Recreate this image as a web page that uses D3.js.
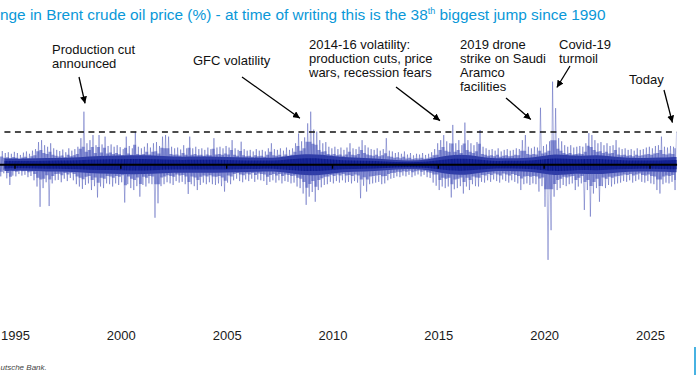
<!DOCTYPE html>
<html><head><meta charset="utf-8">
<script src="https://cdn.jsdelivr.net/npm/d3@7"></script>
<style>
html,body{margin:0;padding:0;background:#fff;overflow:hidden;}
svg{display:block;font-family:"Liberation Sans",Arial,Helvetica,sans-serif;}
</style></head><body>
<svg id="chart" width="700" height="375"></svg>
<script>
// ---------------- data ----------------
const tickYears = [1995, 2000, 2005, 2010, 2015, 2020, 2025];
const firstSample = 1994.22;      // fractional year of first sample window
const samplesPerYear = 7;         // envelope windows per year
// largest daily rise (%) in each window
const upMoves = [
 3.0,3.5,3.0,3.2,2.8,3.3,3.0,2.5,3.1,3.4,2.8,3.6,4.0,5.8,6.3,5.0,4.6,5.5,4.2,3.8,
 3.5,3.9,3.2,4.2,3.6,4.0,4.6,6.8,13.6,5.5,6.3,7.6,5.0,7.6,5.2,7.2,4.8,5.2,4.6,5.0,
 4.5,4.0,7.2,4.8,4.2,8.5,4.6,4.2,4.6,5.5,4.4,5.5,5.8,4.8,7.2,7.6,7.2,4.6,4.2,4.4,
 3.9,5.0,4.2,7.2,4.2,4.6,4.0,4.2,3.8,4.4,4.0,6.8,4.4,4.6,4.2,4.8,4.4,6.3,4.2,3.8,
 5.9,4.0,3.6,3.8,3.4,4.0,3.6,3.8,3.4,4.2,5.5,4.0,3.8,4.2,3.6,4.4,3.8,4.2,5.5,8.0,
 6.0,7.0,10.6,13.6,9.0,8.5,6.3,5.5,5.8,4.6,4.2,4.6,4.0,4.4,3.8,4.4,5.5,4.2,4.0,4.6,
 6.3,5.0,4.4,4.0,3.8,4.2,3.6,4.0,6.8,3.6,3.4,3.0,3.2,2.8,3.4,2.6,3.0,2.4,2.8,2.6,
 3.0,2.5,2.8,3.2,4.0,5.5,6.3,7.6,6.0,5.5,10.2,5.5,6.3,5.0,10.8,6.3,5.5,5.0,5.8,8.9,
 4.6,4.2,3.8,4.0,3.6,4.2,3.4,3.8,4.0,3.6,3.8,4.2,4.0,6.3,7.6,4.6,4.2,4.6,4.4,14.6,
 4.8,5.2,6.0,21.3,14.5,6.8,6.0,5.0,4.6,5.0,4.4,4.6,4.8,4.6,5.5,8.1,7.6,6.3,5.5,5.8,
 5.0,5.5,4.8,5.0,6.3,4.4,4.0,4.2,3.8,4.0,3.6,4.2,3.8,4.0,4.4,4.6,4.2,4.8,5.0,7.2,
 4.6,4.4,4.8,4.6,8.4
];
// largest daily fall (%) in each window
const downMoves = [
 -2.5,-3.0,-2.2,-3.5,-5.2,-2.8,-3.0,-2.4,-2.8,-2.6,-3.2,-2.9,-4.0,-5.6,-10.8,-6.0,-4.5,-10.6,-4.8,-4.0,
 -3.9,-4.5,-3.6,-4.2,-3.4,-4.0,-5.0,-5.6,-6.2,-5.2,-4.8,-6.5,-5.5,-8.4,-5.6,-6.0,-4.8,-5.0,-5.6,-4.8,
 -5.2,-4.5,-9.7,-5.0,-6.0,-6.5,-5.5,-8.2,-5.2,-5.6,-4.8,-5.0,-13.6,-9.9,-5.5,-5.0,-4.5,-4.8,-5.2,-4.2,
 -4.6,-4.4,-5.0,-7.5,-5.0,-5.5,-6.5,-5.2,-4.6,-5.0,-4.5,-5.0,-5.2,-4.8,-5.5,-6.9,-4.6,-5.0,-4.0,-3.6,
 -4.2,-4.5,-3.8,-4.2,-3.6,-4.4,-3.8,-4.0,-4.2,-5.2,-4.4,-4.0,-4.6,-4.0,-4.8,-4.2,-4.4,-4.8,-4.6,-5.6,
 -6.0,-7.4,-10.3,-8.2,-7.0,-9.5,-6.5,-5.8,-5.2,-5.0,-4.4,-4.8,-4.2,-4.6,-4.0,-4.6,-4.4,-4.8,-4.2,-4.6,
 -8.6,-5.4,-6.9,-5.0,-4.8,-4.6,-4.4,-5.0,-4.8,-4.0,-3.6,-3.4,-3.0,-3.2,-2.8,-3.0,-2.6,-3.2,-2.8,-2.5,
 -3.0,-2.6,-3.2,-3.4,-4.6,-5.4,-6.5,-5.6,-6.0,-5.6,-8.4,-6.3,-6.0,-5.5,-7.4,-5.6,-6.5,-5.0,-5.5,-5.6,
 -4.4,-4.6,-4.0,-4.4,-3.8,-4.2,-4.6,-3.8,-4.2,-4.6,-4.0,-4.4,-4.8,-6.5,-5.0,-4.8,-5.2,-4.8,-5.0,-6.9,
 -5.5,-10.8,-24.4,-16.8,-8.2,-6.5,-6.0,-5.2,-5.5,-5.0,-4.8,-6.5,-5.6,-4.8,-11.6,-6.5,-13.3,-7.4,-6.0,-9.5,
 -5.5,-6.0,-5.2,-5.6,-5.0,-4.8,-4.6,-4.2,-4.4,-4.0,-4.6,-4.2,-3.8,-4.4,-4.6,-4.2,-4.8,-5.0,-6.5,-7.4,
 -5.0,-4.6,-4.8,-4.4,-6.5
];
// typical (dense-band) size of daily moves, % per year
const coreYears   = [1994,1995,1996,1997,1998,1999,2000,2001,2002,2003,2004,2005,2006,2007,2008,2009,2010,
                     2011,2012,2013,2014,2015,2016,2017,2018,2019,2020,2021,2022,2023,2024,2025,2026];
const typicalMove = [1.6,1.5,1.8,1.7,2.2,2.3,2.5,2.4,2.0,2.1,2.1,1.9,1.8,1.7,2.8,2.7,1.8,
                     1.8,1.4,1.0,1.2,2.6,2.6,1.5,1.7,1.7,3.0,2.1,2.6,1.9,1.7,1.8,2.0];
const latestMove = 8.4;   // today's jump (%)

// visible text of the (cropped) title and source line
const titleText = ["nge in Brent crude oil price (%) - at time of writing this is the 38", "th", " biggest jump since 1990"];
const sourceText = "utsche Bank.";

// annotations: label lines, text position (px), arrow tail (px), arrow tip in data space [year, %]
const annotations = [
  {lines:["Production cut","announced"], tx:52, ty:53.5, tail:[79,77], tip:[1998.31,15.7]},
  {lines:["GFC volatility"], tx:193, ty:64.5, tail:[242,77], tip:[2008.46,11.9]},
  {lines:["2014-16 volatility:","production cuts, price","wars, recession fears"], tx:309, ty:48.5, tail:[396,87], tip:[2015.08,11.3]},
  {lines:["2019 drone","strike on Saudi","Aramco","facilities"], tx:460, ty:48.5, tail:[506,98], tip:[2019.37,11.6]},
  {lines:["Covid-19","turmoil"], tx:559, ty:48.5, tail:[570,66], tip:[2020.60,19.8]},
  {lines:["Today"], tx:629, ty:83.5, tail:[664,90], tip:[2026.06,10.8]}
];

// ---------------- drawing ----------------
const svg = d3.select('#chart');
const yearToDate = fy => {
  const yr = Math.floor(fy);
  const s = Date.UTC(yr,0,1), e = Date.UTC(yr+1,0,1);
  return new Date(s + (fy - yr) * (e - s));
};
const x = d3.scaleUtc()
  .domain([yearToDate(1995), yearToDate(2025)])
  .range([15, 650]);
const y = d3.scaleLinear().domain([-40, 25]).range([320.7, 67.2]);

const step = 1 / samplesPerYear;
const typicalAt = t => typicalMove[Math.max(0, Math.min(coreYears.length - 1, Math.floor(t) - coreYears[0]))];
const pts = [];
const win = [];
upMoves.forEach((u, i) => {
  const t = firstSample + i * step;
  pts.push([yearToDate(t - step/4), downMoves[i]]);
  pts.push([yearToDate(t + step/4), u]);
  win.push({d: yearToDate(t), hi: u, lo: downMoves[i], typ: typicalAt(t)});
});
const tStart = firstSample - step/4;
const tEnd = firstSample + (upMoves.length - 1) * step + step/4;

const defs = svg.append('defs');
defs.append('clipPath').attr('id','dataclip').append('rect')
  .attr('x', x(yearToDate(tStart))).attr('y', 0)
  .attr('width', x(yearToDate(tEnd)) - x(yearToDate(tStart))).attr('height', 375);

const g = svg.append('g').attr('clip-path','url(#dataclip)');

// medium fringe: where most daily moves lie (ragged, from window extremes)
g.append('path').datum(win)
  .attr('d', d3.area().curve(d3.curveStep).x(d => x(d.d))
    .y0(d => y(Math.max(d.lo * 0.6, -d.typ * 2.1)))
    .y1(d => y(Math.min(d.hi * 0.6, d.typ * 2.1))))
  .attr('fill', '#4f5cc0').attr('opacity', 0.62);

// core band (typical moves)
const coreData = coreYears.map((yr, i) => ({d: yearToDate(yr + 0.5), v: typicalMove[i]}));
g.append('path').datum(coreData)
  .attr('d', d3.area().curve(d3.curveBasis).x(d => x(d.d)).y0(d => y(-d.v)).y1(d => y(d.v)))
  .attr('fill', '#1d2d9e').attr('opacity', 0.85);
g.append('path').datum(coreData)
  .attr('d', d3.area().curve(d3.curveBasis).x(d => x(d.d)).y0(d => y(-d.v*0.6)).y1(d => y(d.v*0.6)))
  .attr('fill', '#081788');

// envelope of daily moves
g.append('path').datum(pts)
  .attr('d', d3.line().x(d => x(d[0])).y(d => y(d[1])))
  .attr('fill','none').attr('stroke','#3442b0').attr('stroke-width',0.8).attr('stroke-opacity',0.5);

// dashed line at today's level
svg.append('line')
  .attr('x1', x(yearToDate(1994.5))).attr('x2', x(yearToDate(tEnd)))
  .attr('y1', y(latestMove)).attr('y2', y(latestMove))
  .attr('stroke','#111').attr('stroke-width',1.6).attr('stroke-dasharray','6,4.5');

// zero line
svg.append('line')
  .attr('x1', 0).attr('x2', x(yearToDate(tEnd)) + 0.5)
  .attr('y1', y(0)).attr('y2', y(0))
  .attr('stroke','#000').attr('stroke-width',2);

// ticks on zero line
svg.selectAll('.tk').data(tickYears).join('line').attr('class','tk')
  .attr('x1', d => x(yearToDate(d))).attr('x2', d => x(yearToDate(d)))
  .attr('y1', y(0)).attr('y2', y(0) + 4)
  .attr('stroke','#000').attr('stroke-width',1.4);

// x labels at bottom
const xAxis = d3.axisBottom(x).tickValues(tickYears.map(yearToDate)).tickFormat(d3.utcFormat('%Y')).tickSize(0).tickPadding(0);
const ax = svg.append('g').attr('transform','translate(0,331)').call(xAxis);
ax.select('.domain').remove();
ax.selectAll('text').attr('font-size',13).attr('fill','#1a1a1a').attr('font-family','"Liberation Sans",Arial,sans-serif');

// title
const title = svg.append('text').attr('x', 0).attr('y', 20)
  .attr('fill','#0a98d8').attr('font-size',15.4);
title.append('tspan').text(titleText[0]);
title.append('tspan').attr('dy',-6).attr('font-size',9).text(titleText[1]);
title.append('tspan').attr('dy',6).text(titleText[2]);

// source
svg.append('text').attr('x',0.5).attr('y',369.5)
  .attr('font-size',8).attr('font-style','italic').attr('fill','#444').text(sourceText);

// right edge frame mark
svg.append('line').attr('x1',695).attr('x2',695).attr('y1',347).attr('y2',375)
  .attr('stroke','#0a98d8').attr('stroke-width',1.5);

// annotations
defs.append('marker').attr('id','arr').attr('viewBox','0 0 10 10').attr('refX',10).attr('refY',5)
  .attr('markerWidth',7).attr('markerHeight',7).attr('markerUnits','userSpaceOnUse').attr('orient','auto')
  .append('path').attr('d','M0,0L10,5L0,10z').attr('fill','#000');
annotations.forEach(a => {
  const t = svg.append('text').attr('font-size',13).attr('fill','#111');
  a.lines.forEach((ln, i) => t.append('tspan').attr('x', a.tx).attr('y', a.ty + i*14.3).text(ln));
  svg.append('line').attr('x1', a.tail[0]).attr('y1', a.tail[1])
    .attr('x2', x(yearToDate(a.tip[0]))).attr('y2', y(a.tip[1]))
    .attr('stroke','#000').attr('stroke-width',1.3).attr('marker-end','url(#arr)');
});
</script>
</body></html>
